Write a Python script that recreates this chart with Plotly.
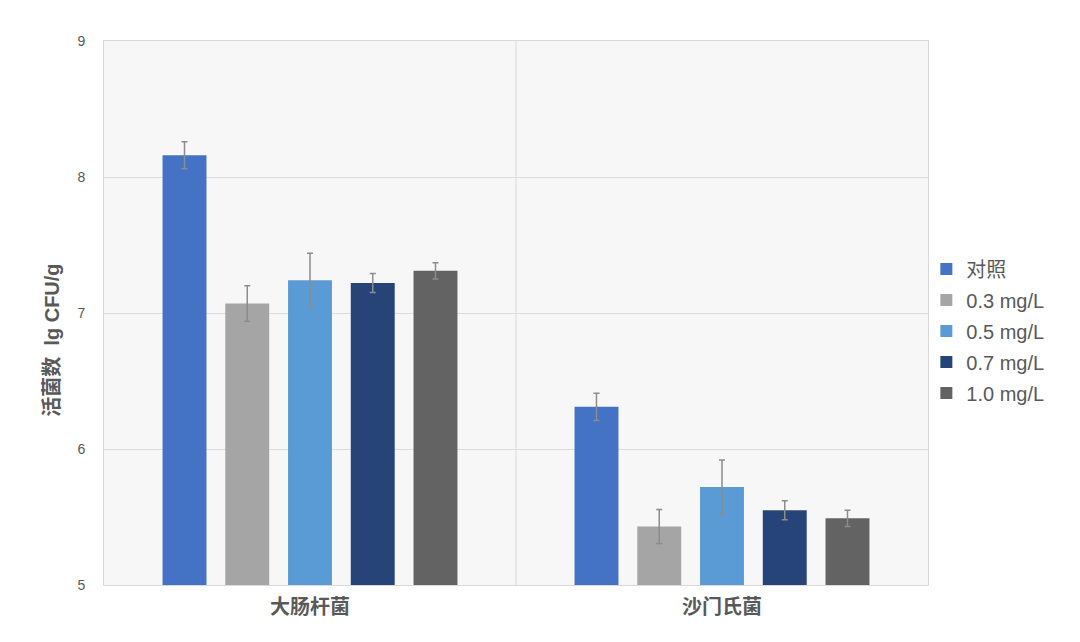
import plotly.graph_objects as go

categories = ["大肠杆菌", "沙门氏菌"]
series_names = ["对照", "0.3 mg/L", "0.5 mg/L", "0.7 mg/L", "1.0 mg/L"]
control = [8.16, 6.31]
c03 = [7.07, 5.43]
c05 = [7.24, 5.72]
c07 = [7.22, 5.55]
c10 = [7.31, 5.49]
err_control = [0.10, 0.10]
err_c03 = [0.13, 0.125]
err_c05 = [0.20, 0.20]
err_c07 = [0.07, 0.07]
err_c10 = [0.06, 0.06]
y_ticks = [5, 6, 7, 8, 9]
y_title = "活菌数  lg CFU/g"

colors = ["#4472C4", "#A5A5A5", "#5B9BD5", "#264478", "#636363"]
values = [control, c03, c05, c07, c10]
errors = [err_control, err_c03, err_c05, err_c07, err_c10]

FONT = "Liberation Sans, Arial, Noto Sans CJK SC, sans-serif"

fig = go.Figure()
for name, vals, errs, col in zip(series_names, values, errors, colors):
    fig.add_trace(go.Bar(
        x=categories, y=vals, name=name, legendgroup=name,
        marker=dict(color=col, line=dict(width=0)),
        error_y=dict(type="data", array=errs, visible=True,
                     color="#8c8c8c", thickness=1.5, width=3),
    ))

# vertical separator between categories
fig.add_shape(type="line", xref="x", yref="paper", x0=0.5, x1=0.5, y0=0, y1=1,
              line=dict(color="#d9d9d9", width=1), layer="below")

# y-axis title (placed as annotation to match the original's offset)
fig.add_annotation(text=y_title, xref="paper", yref="paper", x=0, y=0.449,
                   xanchor="center", yanchor="middle", xshift=-52, textangle=-90,
                   showarrow=False,
                   font=dict(size=20, color="#595959", family=FONT, weight="bold"))

fig.update_layout(
    width=1072, height=634,
    margin=dict(l=96, r=152, t=33, b=57),
    paper_bgcolor="white",
    plot_bgcolor="#f7f7f7",
    barmode="group",
    bargap=0.2385,
    bargroupgap=0.30,
    font=dict(family=FONT, color="#595959", size=14),
    showlegend=True,
    legend=dict(x=0.998, xanchor="left", y=0.467, yanchor="middle",
                font=dict(size=20, color="#595959"),
                bgcolor="rgba(0,0,0,0)", tracegroupgap=2, itemwidth=30,
                traceorder="grouped"),
    xaxis=dict(
        type="category",
        tickfont=dict(size=20, color="#595959", family="Noto Sans CJK SC, sans-serif", weight="bold"),
        showgrid=False, ticks="", showline=True, linecolor="#d9d9d9", mirror=True,
        linewidth=1, ticklabelstandoff=4,
    ),
    yaxis=dict(
        range=[5, 9], tickvals=y_ticks, ticktext=[str(t) for t in y_ticks],
        tickfont=dict(size=14, color="#595959"),
        showgrid=True, gridcolor="#dcdcdc", gridwidth=1,
        showline=True, linecolor="#d9d9d9", mirror=True, linewidth=1,
        zeroline=False, ticks="", ticklabelstandoff=15,
    ),
)

fig.write_html("out.html")
